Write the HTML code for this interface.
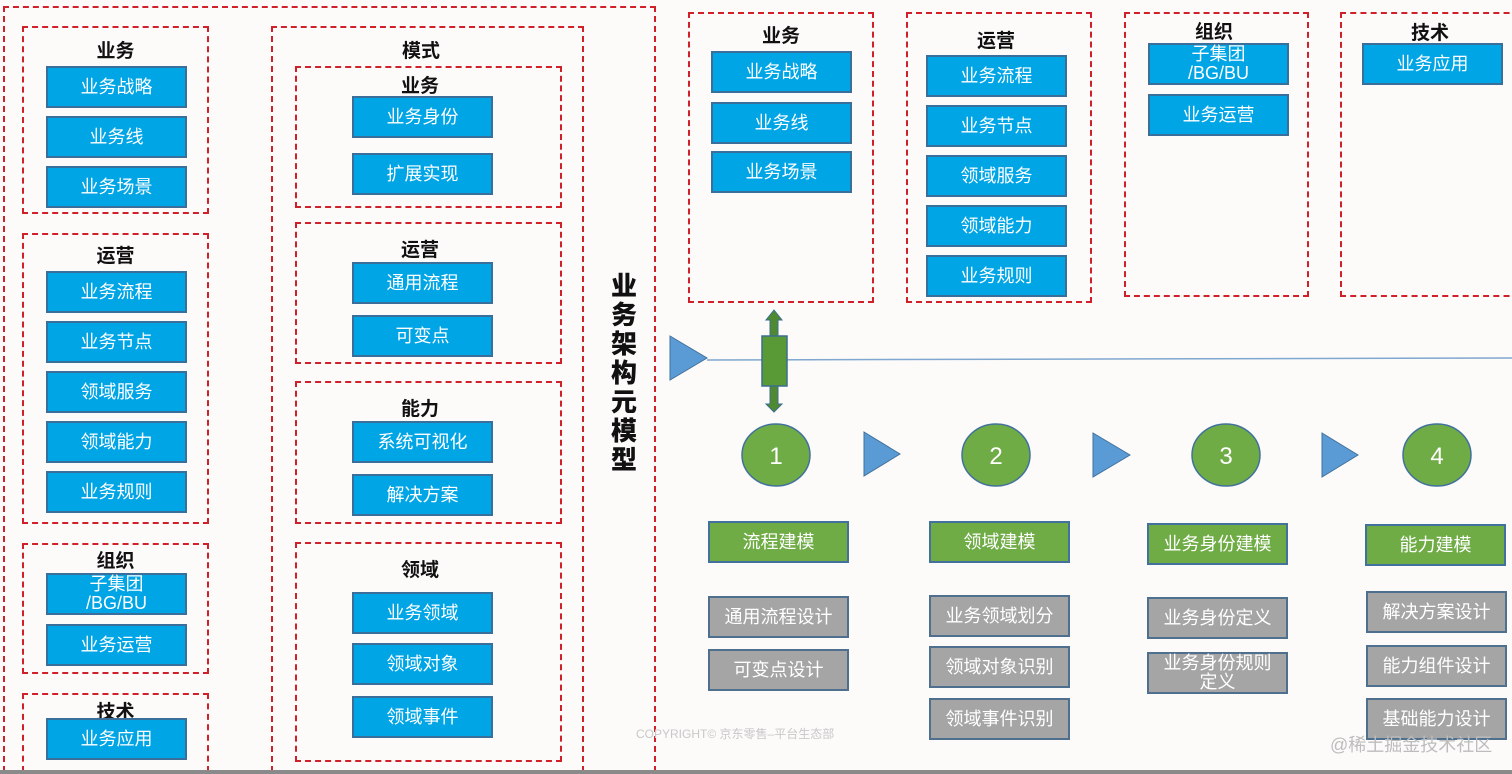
<!DOCTYPE html>
<html style="overflow:hidden;width:1512px;height:774px"><head><meta charset="utf-8"><style>
body{margin:0;width:1512px;height:774px;background:#fcfbfa;position:relative;overflow:hidden;font-family:"Liberation Sans","Noto Sans CJK SC",sans-serif}
.d{position:absolute;border:2px dashed #d0212b;box-sizing:border-box}
.b,.g,.y{position:absolute;box-sizing:border-box;color:#fff;font-size:18px;display:flex;align-items:center;justify-content:center;text-align:center;line-height:20px}
.b{background:#00a5e5;border:2px solid #3a6f9c;width:141px;height:42px}
.g{background:#6fac46;border:2px solid #41719c;width:141px;height:42px}
.y{background:#a5a5a5;border:2px solid #4f6f8f;width:141px;height:42px}
.t{position:absolute;font-weight:bold;font-size:19px;color:#111;text-align:center}
</style></head><body>
<div class="d" style="left:3px;top:6px;width:653px;height:766px"></div>
<!-- left column -->
<div class="d" style="left:22px;top:26px;width:187px;height:188px"></div>
<div class="t" style="left:22px;top:36px;width:187px">业务</div>
<div class="b" style="left:46px;top:66px">业务战略</div>
<div class="b" style="left:46px;top:116px">业务线</div>
<div class="b" style="left:46px;top:166px">业务场景</div>
<div class="d" style="left:22px;top:233px;width:187px;height:291px"></div>
<div class="t" style="left:22px;top:241px;width:187px">运营</div>
<div class="b" style="left:46px;top:271px">业务流程</div>
<div class="b" style="left:46px;top:321px">业务节点</div>
<div class="b" style="left:46px;top:371px">领域服务</div>
<div class="b" style="left:46px;top:421px">领域能力</div>
<div class="b" style="left:46px;top:471px">业务规则</div>
<div class="d" style="left:22px;top:543px;width:187px;height:131px"></div>
<div class="t" style="left:22px;top:546px;width:187px">组织</div>
<div class="b" style="left:46px;top:573px;line-height:19px">子集团<br>/BG/BU</div>
<div class="b" style="left:46px;top:624px">业务运营</div>
<div class="d" style="left:22px;top:693px;width:187px;height:79px"></div>
<div class="t" style="left:22px;top:697px;width:187px">技术</div>
<div class="b" style="left:46px;top:718px">业务应用</div>
<!-- middle -->
<div class="d" style="left:271px;top:26px;width:313px;height:746px"></div>
<div class="t" style="left:271px;top:36px;width:300px">模式</div>
<div class="d" style="left:295px;top:66px;width:267px;height:142px"></div>
<div class="t" style="left:295px;top:71px;width:250px">业务</div>
<div class="b" style="left:352px;top:96px">业务身份</div>
<div class="b" style="left:352px;top:153px">扩展实现</div>
<div class="d" style="left:295px;top:222px;width:267px;height:142px"></div>
<div class="t" style="left:295px;top:235px;width:250px">运营</div>
<div class="b" style="left:352px;top:262px">通用流程</div>
<div class="b" style="left:352px;top:315px">可变点</div>
<div class="d" style="left:295px;top:381px;width:267px;height:143px"></div>
<div class="t" style="left:295px;top:394px;width:250px">能力</div>
<div class="b" style="left:352px;top:421px">系统可视化</div>
<div class="b" style="left:352px;top:474px">解决方案</div>
<div class="d" style="left:295px;top:542px;width:267px;height:220px"></div>
<div class="t" style="left:295px;top:555px;width:250px">领域</div>
<div class="b" style="left:352px;top:592px">业务领域</div>
<div class="b" style="left:352px;top:643px">领域对象</div>
<div class="b" style="left:352px;top:696px">领域事件</div>
<div class="t" style="left:608px;top:272px;width:32px;font-size:26px;line-height:29px;font-weight:900">业<br>务<br>架<br>构<br>元<br>模<br>型</div>
<!-- right top -->
<div class="d" style="left:688px;top:12px;width:186px;height:291px"></div>
<div class="t" style="left:688px;top:21px;width:186px">业务</div>
<div class="b" style="left:711px;top:51px">业务战略</div>
<div class="b" style="left:711px;top:102px">业务线</div>
<div class="b" style="left:711px;top:151px">业务场景</div>
<div class="d" style="left:906px;top:12px;width:186px;height:291px"></div>
<div class="t" style="left:906px;top:26px;width:180px">运营</div>
<div class="b" style="left:926px;top:55px">业务流程</div>
<div class="b" style="left:926px;top:105px">业务节点</div>
<div class="b" style="left:926px;top:155px">领域服务</div>
<div class="b" style="left:926px;top:205px">领域能力</div>
<div class="b" style="left:926px;top:255px">业务规则</div>
<div class="d" style="left:1124px;top:12px;width:185px;height:285px"></div>
<div class="t" style="left:1124px;top:17px;width:180px">组织</div>
<div class="b" style="left:1148px;top:43px;line-height:19px">子集团<br>/BG/BU</div>
<div class="b" style="left:1148px;top:94px">业务运营</div>
<div class="d" style="left:1340px;top:12px;width:190px;height:285px"></div>
<div class="t" style="left:1340px;top:18px;width:180px">技术</div>
<div class="b" style="left:1362px;top:43px">业务应用</div>
<!-- shapes -->
<svg style="position:absolute;left:0;top:0" width="1512" height="774">
<line x1="707" y1="360" x2="1512" y2="358" stroke="#7fa7cf" stroke-width="1.5"/>
<polygon points="670,336 707,358 670,380" fill="#5b9bd5" stroke="#41719c"/>
<polygon points="864,432 900,454 864,476" fill="#5b9bd5" stroke="#41719c"/>
<polygon points="1093,433 1130,455 1093,477" fill="#5b9bd5" stroke="#41719c"/>
<polygon points="1322,433 1358,455 1322,477" fill="#5b9bd5" stroke="#41719c"/>
<polygon points="774,310 782,320 778,320 778,404 782,404 774,412 766,404 770,404 770,320 766,320" fill="#4f8a32" stroke="#3c6e8f"/>
<rect x="762" y="336" width="25" height="50" fill="#5a9a36" stroke="#3c6e8f" stroke-width="1.5"/>
<g fill="#6fac46" stroke="#41719c" stroke-width="1.5">
<ellipse cx="776" cy="455" rx="34" ry="31"/><ellipse cx="996" cy="455" rx="34" ry="31"/>
<ellipse cx="1226" cy="455" rx="34" ry="31"/><ellipse cx="1437" cy="455" rx="34" ry="31"/></g>
<g fill="#fff" font-size="24" font-family="Liberation Sans" text-anchor="middle">
<text x="776" y="464">1</text><text x="996" y="464">2</text><text x="1226" y="464">3</text><text x="1437" y="464">4</text></g>
</svg>
<div class="g" style="left:708px;top:521px">流程建模</div>
<div class="g" style="left:929px;top:521px">领域建模</div>
<div class="g" style="left:1147px;top:523px">业务身份建模</div>
<div class="g" style="left:1365px;top:524px">能力建模</div>
<div class="y" style="left:708px;top:596px">通用流程设计</div>
<div class="y" style="left:708px;top:649px">可变点设计</div>
<div class="y" style="left:929px;top:595px">业务领域划分</div>
<div class="y" style="left:929px;top:646px">领域对象识别</div>
<div class="y" style="left:929px;top:698px">领域事件识别</div>
<div class="y" style="left:1147px;top:597px">业务身份定义</div>
<div class="y" style="left:1147px;top:652px;line-height:19px">业务身份规则<br>定义</div>
<div class="y" style="left:1366px;top:591px">解决方案设计</div>
<div class="y" style="left:1366px;top:645px">能力组件设计</div>
<div class="y" style="left:1366px;top:698px">基础能力设计</div>
<div style="position:absolute;left:636px;top:725px;font-size:12px;color:#c8c8c8">COPYRIGHT© 京东零售–平台生态部</div>
<div style="position:absolute;left:1330px;top:731px;font-size:18px;color:#bdbdbd">@稀土掘金技术社区</div>
<div style="position:absolute;left:0;top:770px;width:1512px;height:4px;background:#8a8a8a"></div>
</body></html>
